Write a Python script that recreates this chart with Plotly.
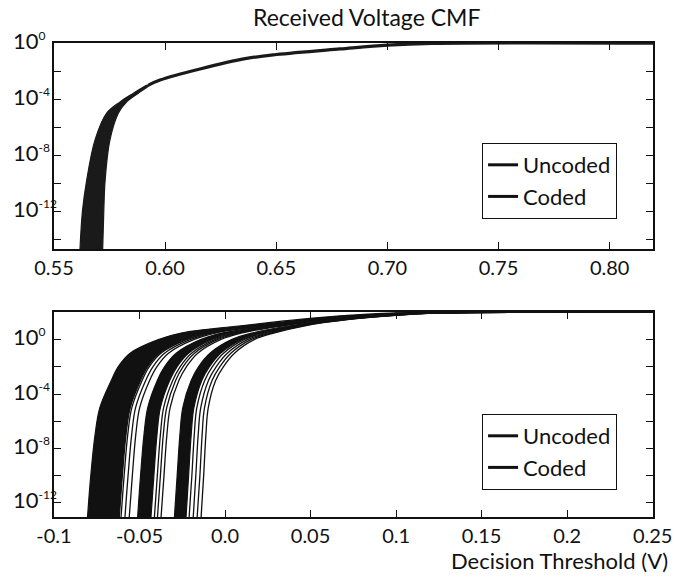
import plotly.graph_objects as go

# ---------------- data: top panel (Received Voltage CMF) ----------------
top_tail_logs = [-14.7, -12.0, -9.8, -6.9, -5.0, -4.2, -3.6, -3.0]
top_left_x = [0.5617, 0.5628, 0.5647, 0.5685, 0.5737, 0.5797, 0.5856, 0.5920]
top_right_x = [0.5719, 0.5724, 0.5730, 0.5752, 0.5790, 0.5827, 0.5878, 0.5930]
top_line_logs = [-3.0, -2.64, -1.85, -1.1, -0.82, -0.42, -0.15, -0.03, -0.01]
top_line_x = [0.5925, 0.5977, 0.6157, 0.6367, 0.6500, 0.6787, 0.7000, 0.7200, 0.8200]

# ---------------- data: bottom panel ----------------
bot_logs = [-13.04, -10, -7, -5, -3, -2, -1, 0, 0.5, 1.0, 1.5, 1.8, 1.96, 2.0]
band_main_left = [-0.0804, -0.0785, -0.0760, -0.0732, -0.0665, -0.0625, -0.0555, -0.0390, -0.0250, 0.0080, 0.0450, 0.0740, 0.1000, 0.25]
band_main_right = [-0.0618, -0.0600, -0.0579, -0.0554, -0.0494, -0.0453, -0.0384, -0.0233, -0.0099, 0.0186, 0.0531, 0.0818, 0.1078, 0.25]
band_d_left = [-0.0511, -0.0494, -0.0474, -0.0452, -0.0396, -0.0354, -0.0286, -0.0143, -0.0012, 0.0248, 0.0578, 0.0863, 0.1123, 0.25]
band_d_right = [-0.0433, -0.0416, -0.0398, -0.0378, -0.0324, -0.0281, -0.0214, -0.0077, 0.0052, 0.0292, 0.0612, 0.0897, 0.1157, 0.25]
band_f_left = [-0.0296, -0.0280, -0.0264, -0.0247, -0.0198, -0.0155, -0.0088, 0.0038, 0.0163, 0.0371, 0.0672, 0.0954, 0.1214, 0.25]
band_f_right = [-0.0228, -0.0213, -0.0198, -0.0182, -0.0136, -0.0092, -0.0026, 0.0096, 0.0218, 0.0409, 0.0701, 0.0983, 0.1243, 0.25]

line_c1 = [-0.0608, -0.0590, -0.0569, -0.0545, -0.0485, -0.0444, -0.0375, -0.0225, -0.0091, 0.0192, 0.0536, 0.0823, 0.1083, 0.25]
line_c2 = [-0.0585, -0.0567, -0.0546, -0.0523, -0.0464, -0.0422, -0.0354, -0.0205, -0.0072, 0.0205, 0.0546, 0.0832, 0.1092, 0.25]
line_c3 = [-0.0560, -0.0542, -0.0522, -0.0499, -0.0441, -0.0399, -0.0331, -0.0184, -0.0051, 0.0220, 0.0557, 0.0843, 0.1103, 0.25]
line_e1 = [-0.0413, -0.0396, -0.0378, -0.0359, -0.0306, -0.0263, -0.0196, -0.0060, 0.0068, 0.0304, 0.0621, 0.0905, 0.1165, 0.25]
line_e2 = [-0.0395, -0.0378, -0.0361, -0.0341, -0.0289, -0.0246, -0.0179, -0.0045, 0.0083, 0.0314, 0.0629, 0.0912, 0.1172, 0.25]
line_e3 = [-0.0374, -0.0357, -0.0340, -0.0321, -0.0270, -0.0226, -0.0160, -0.0027, 0.0100, 0.0326, 0.0638, 0.0921, 0.1181, 0.25]
line_g1 = [-0.0210, -0.0194, -0.0180, -0.0165, -0.0119, -0.0075, -0.0009, 0.0111, 0.0233, 0.0420, 0.0710, 0.0991, 0.1251, 0.25]
line_g2 = [-0.0186, -0.0171, -0.0157, -0.0142, -0.0097, -0.0052, 0.0013, 0.0131, 0.0253, 0.0434, 0.0720, 0.1001, 0.1261, 0.25]
line_g3 = [-0.0163, -0.0147, -0.0134, -0.0120, -0.0076, -0.0031, 0.0034, 0.0151, 0.0272, 0.0447, 0.0730, 0.1010, 0.1270, 0.25]
line_g4 = [-0.0140, -0.0125, -0.0112, -0.0098, -0.0055, -0.0010, 0.0055, 0.0170, 0.0290, 0.0460, 0.0740, 0.1020, 0.1280, 0.25]

legend_names = ["Uncoded", "Coded"]

top_xticks = [0.55, 0.60, 0.65, 0.70, 0.75, 0.80]
top_xtick_text = ["0.55", "0.60", "0.65", "0.70", "0.75", "0.80"]
bot_xticks = [-0.1, -0.05, 0.0, 0.05, 0.1, 0.15, 0.2, 0.25]
bot_xtick_text = ["-0.1", "-0.05", "0.0", "0.05", "0.1", "0.15", "0.2", "0.25"]
top_ytick_exp = [0, -2, -4, -6, -8, -10, -12, -14]
bot_ytick_exp = [0, -2, -4, -6, -8, -10, -12]
ylabel_exp = [0, -4, -8, -12]

FONT = "Lato, 'Open Sans', sans-serif"
BLACK = "#111111"

fig = go.Figure()


def pw(e):
    return [10 ** v for v in e]


# top panel band (filled between two boundaries)
fig.add_trace(go.Scatter(
    x=top_left_x + top_right_x[::-1], y=pw(top_tail_logs + top_tail_logs[::-1]),
    fill="toself", fillcolor="#1a1a1a", mode="lines",
    line=dict(color="#1a1a1a", width=1.2, shape="spline"),
    showlegend=False, hoverinfo="skip", xaxis="x", yaxis="y"))
fig.add_trace(go.Scatter(
    x=top_line_x, y=pw(top_line_logs), mode="lines",
    line=dict(color="#1a1a1a", width=3.2, shape="spline"),
    showlegend=False, hoverinfo="skip", xaxis="x", yaxis="y"))

# bottom panel dense bands
for left, right in [(band_main_left, band_main_right), (band_d_left, band_d_right), (band_f_left, band_f_right)]:
    fig.add_trace(go.Scatter(
        x=left + right[::-1], y=pw(bot_logs + bot_logs[::-1]),
        fill="toself", fillcolor=BLACK, mode="lines",
        line=dict(color=BLACK, width=1.2, shape="spline"),
        showlegend=False, hoverinfo="skip", xaxis="x2", yaxis="y2"))

for ln in [line_c1, line_c2, line_c3, line_e1, line_e2, line_e3, line_g1, line_g2, line_g3, line_g4]:
    fig.add_trace(go.Scatter(
        x=ln, y=pw(bot_logs), mode="lines",
        line=dict(color=BLACK, width=1.3, shape="spline"),
        showlegend=False, hoverinfo="skip", xaxis="x2", yaxis="y2"))

# legend entries
for lg, xa, ya in [("legend", "x", "y"), ("legend2", "x2", "y2")]:
    for nm in legend_names:
        fig.add_trace(go.Scatter(
            x=[None], y=[None], mode="lines", name=nm,
            line=dict(color=BLACK, width=3), legend=lg, xaxis=xa, yaxis=ya))


axis_common = dict(showline=True, linecolor=BLACK, linewidth=1.5, mirror="ticks",
                   ticks="inside", ticklen=7, tickwidth=1.3, tickcolor=BLACK,
                   showgrid=False, zeroline=False, automargin=False,
                   tickfont=dict(family=FONT, size=20, color=BLACK))

legend_common = dict(xanchor="right", yanchor="top", bordercolor=BLACK, borderwidth=1,
                     bgcolor="white", itemwidth=30, tracegroupgap=0,
                     font=dict(family=FONT, size=22, color=BLACK))

# y-axis labels (left aligned, as in the reference), positioned on the log axes
ylabel_annotations = []
for yref in ["y", "y2"]:
    for e in ylabel_exp:
        ylabel_annotations.append(dict(
            text="10<sup><span style='font-size:12px'>%d</span></sup>" % e,
            xref="paper", yref=yref, x=-0.0717, y=e, xanchor="left", yanchor="middle",
            yshift=3, showarrow=False, font=dict(family=FONT, size=22, color=BLACK)))

fig.update_layout(
    width=675, height=577,
    margin=dict(l=54, r=22, t=43, b=60, autoexpand=False),
    paper_bgcolor="white", plot_bgcolor="white",
    font=dict(family=FONT, size=20, color=BLACK),
    xaxis=dict(domain=[0, 1], anchor="y", range=[0.55, 0.8195],
               tickvals=top_xticks, ticktext=top_xtick_text, **axis_common),
    yaxis=dict(domain=[0.5654, 1], anchor="x", type="log", range=[-14.7, 0.002],
               tickvals=pw(top_ytick_exp), showticklabels=False, **axis_common),
    xaxis2=dict(domain=[0, 1], anchor="y2", range=[-0.1, 0.2502],
                tickvals=bot_xticks, ticktext=bot_xtick_text, **axis_common),
    yaxis2=dict(domain=[0, 0.4325], anchor="x2", type="log", range=[-13.04, 2.03],
                tickvals=pw(bot_ytick_exp), showticklabels=False, **axis_common),
    legend=dict(x=0.94, y=0.789, **legend_common),
    legend2=dict(x=0.94, y=0.2173, **legend_common),
    annotations=[
        dict(text="Received Voltage CMF", xref="paper", yref="paper", x=0.5225, y=1.055,
             xanchor="center", yanchor="middle", showarrow=False,
             font=dict(family=FONT, size=23, color=BLACK)),
        dict(text="Decision Threshold (V)", xref="paper", yref="paper", x=1.028, y=-0.092,
             xanchor="right", yanchor="middle", showarrow=False,
             font=dict(family=FONT, size=22, color=BLACK)),
    ] + ylabel_annotations,
)

fig.write_html("out.html")
